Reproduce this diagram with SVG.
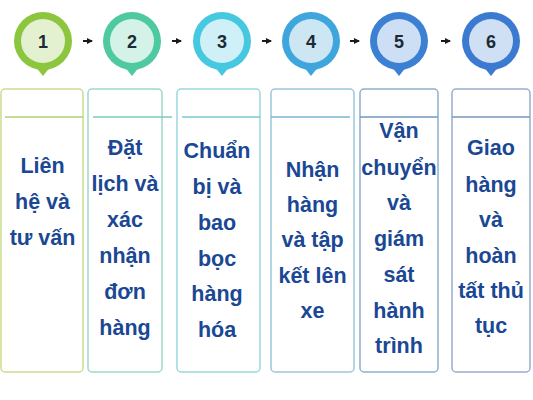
<svg xmlns="http://www.w3.org/2000/svg" width="533" height="400" viewBox="0 0 533 400">
<style>
.num{font-family:"Liberation Sans",Arial,sans-serif;font-weight:bold;font-size:18px;fill:#1d2a35;text-anchor:middle}
.lbl{font-family:"Liberation Sans",Arial,sans-serif;font-weight:bold;font-size:21.5px;fill:#1a4894;text-anchor:middle}
.box{fill:#ffffff;stroke-width:1.5}
.div{stroke-width:1.5;fill:none}
</style>
<defs>
<marker id="ah" markerWidth="6" markerHeight="6" refX="5" refY="3" orient="auto" markerUnits="userSpaceOnUse">
<path d="M0,0 L6,3 L0,6 Z" fill="#1a1a1a"/>
</marker>
</defs>
<rect width="533" height="400" fill="#ffffff"/>
<g id="connectors" stroke="#1a1a1a" stroke-width="2">
<line x1="83" y1="41" x2="92" y2="41" marker-end="url(#ah)"/>
<line x1="172" y1="41" x2="181" y2="41" marker-end="url(#ah)"/>
<line x1="262" y1="41" x2="271" y2="41" marker-end="url(#ah)"/>
<line x1="350" y1="41" x2="359" y2="41" marker-end="url(#ah)"/>
<line x1="441" y1="41" x2="450" y2="41" marker-end="url(#ah)"/>
</g>
<g id="node1">
<path d="M35,66 L43,76 L51,66 Z" fill="#8cc63f"/>
<circle cx="43" cy="41" r="29" fill="#8cc63f"/>
<circle cx="43" cy="41" r="22" fill="#e4f1d0"/>
<text class="num" x="43" y="47.5">1</text>
<rect class="box" x="1" y="89" width="82" height="283" rx="4" stroke="#cadd8e"/>
<line class="div" x1="5" y1="117" x2="83" y2="117" stroke="#b2d070"/>
<text class="lbl" x="42.5" y="173">Liên</text>
<text class="lbl" x="42.5" y="209">hệ và</text>
<text class="lbl" x="42.5" y="245">tư vấn</text>
</g>
<g id="node2">
<path d="M124,66 L132,76 L140,66 Z" fill="#4ec9a2"/>
<circle cx="132" cy="41" r="29" fill="#4ec9a2"/>
<circle cx="132" cy="41" r="22" fill="#d4f2e7"/>
<text class="num" x="132" y="47.5">2</text>
<rect class="box" x="88" y="89" width="74" height="283" rx="4" stroke="#9ed8cc"/>
<line class="div" x1="93" y1="117" x2="172" y2="117" stroke="#7ccbb8"/>
<text class="lbl" x="125" y="155">Đặt</text>
<text class="lbl" x="125" y="191">lịch và</text>
<text class="lbl" x="125" y="227">xác</text>
<text class="lbl" x="125" y="263">nhận</text>
<text class="lbl" x="125" y="299">đơn</text>
<text class="lbl" x="125" y="335">hàng</text>
</g>
<g id="node3">
<path d="M214,66 L222,76 L230,66 Z" fill="#45c8e0"/>
<circle cx="222" cy="41" r="29" fill="#45c8e0"/>
<circle cx="222" cy="41" r="22" fill="#cef0f6"/>
<text class="num" x="222" y="47.5">3</text>
<rect class="box" x="177" y="89" width="83" height="283" rx="4" stroke="#9ad8de"/>
<line class="div" x1="182" y1="117" x2="260" y2="117" stroke="#78c8d2"/>
<text class="lbl" x="217" y="158">Chuẩn</text>
<text class="lbl" x="217" y="194">bị và</text>
<text class="lbl" x="217" y="230">bao</text>
<text class="lbl" x="217" y="266">bọc</text>
<text class="lbl" x="217" y="301">hàng</text>
<text class="lbl" x="217" y="337">hóa</text>
</g>
<g id="node4">
<path d="M303,66 L311,76 L319,66 Z" fill="#3ea6dc"/>
<circle cx="311" cy="41" r="29" fill="#3ea6dc"/>
<circle cx="311" cy="41" r="22" fill="#cde6f4"/>
<text class="num" x="311" y="47.5">4</text>
<rect class="box" x="271" y="89" width="83" height="283" rx="4" stroke="#9cc6dc"/>
<line class="div" x1="271" y1="117" x2="350" y2="117" stroke="#7cb4d0"/>
<text class="lbl" x="312.5" y="177">Nhận</text>
<text class="lbl" x="312.5" y="212">hàng</text>
<text class="lbl" x="312.5" y="247">và tập</text>
<text class="lbl" x="312.5" y="283">kết lên</text>
<text class="lbl" x="312.5" y="318">xe</text>
</g>
<g id="node5">
<path d="M391,66 L399,76 L407,66 Z" fill="#3c80d4"/>
<circle cx="399" cy="41" r="29" fill="#3c80d4"/>
<circle cx="399" cy="41" r="22" fill="#cddff4"/>
<text class="num" x="399" y="47.5">5</text>
<rect class="box" x="360" y="89" width="78" height="283" rx="4" stroke="#90b0cc"/>
<line class="div" x1="360" y1="117" x2="438" y2="117" stroke="#6f98c0"/>
<text class="lbl" x="399" y="138">Vận</text>
<text class="lbl" x="399" y="175">chuyển</text>
<text class="lbl" x="399" y="210">và</text>
<text class="lbl" x="399" y="246">giám</text>
<text class="lbl" x="399" y="282">sát</text>
<text class="lbl" x="399" y="318">hành</text>
<text class="lbl" x="399" y="353">trình</text>
</g>
<g id="node6">
<path d="M483,66 L491,76 L499,66 Z" fill="#3b7ad0"/>
<circle cx="491" cy="41" r="29" fill="#3b7ad0"/>
<circle cx="491" cy="41" r="22" fill="#cfe0f4"/>
<text class="num" x="491" y="47.5">6</text>
<rect class="box" x="452" y="89" width="78" height="283" rx="4" stroke="#96aecb"/>
<line class="div" x1="452" y1="117" x2="530" y2="117" stroke="#7896bc"/>
<text class="lbl" x="491" y="155">Giao</text>
<text class="lbl" x="491" y="192">hàng</text>
<text class="lbl" x="491" y="227">và</text>
<text class="lbl" x="491" y="263">hoàn</text>
<text class="lbl" x="491" y="298">tất thủ</text>
<text class="lbl" x="491" y="333">tục</text>
</g>
</svg>
